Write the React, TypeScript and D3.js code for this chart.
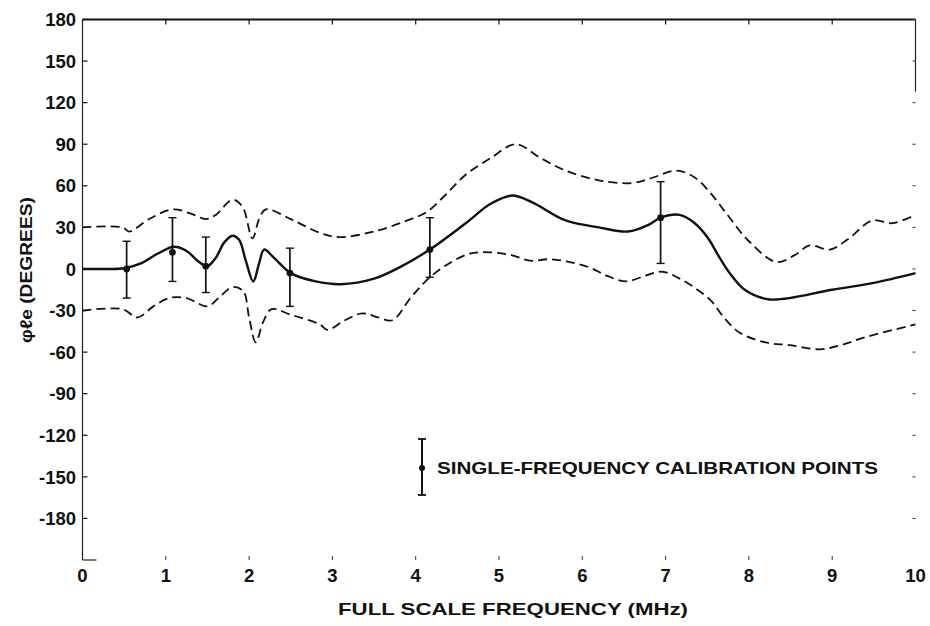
import React from "react";
import * as d3 from "d3";

// ---- data ----
const xTicks = [0, 1, 2, 3, 4, 5, 6, 7, 8, 9, 10];
const yTicks = [180, 150, 120, 90, 60, 30, 0, -30, -60, -90, -120, -150, -180];

const meanFreq = [0, 0.3, 0.5, 0.7, 0.9, 1.1, 1.25, 1.4, 1.5, 1.6, 1.7, 1.8, 1.88, 1.96, 2.05, 2.12, 2.18, 2.3, 2.5, 2.8, 3.1, 3.5, 3.8, 4.17, 4.6, 4.9, 5.16, 5.4, 5.8, 6.2, 6.55, 6.8, 6.94, 7.17, 7.35, 7.5, 7.65, 7.77, 7.95, 8.25, 9.0, 9.5, 10];
const meanPhase = [0, 0, 0.5, 4, 11, 16, 13, 5, 2, 8, 19, 24, 21, 6, -9, 4, 14, 8, -3, -9, -11, -7, 1, 14, 33, 47, 53, 48, 35, 30, 27, 32, 37, 39, 33, 23, 8, -3, -15, -22, -15, -10, -3];

const upperFreq = [0, 0.48, 0.56, 0.8, 1.08, 1.3, 1.48, 1.6, 1.8, 1.92, 2.04, 2.12, 2.2, 2.5, 2.85, 3.08, 3.5, 3.9, 4.13, 4.35, 4.6, 4.9, 5.2, 5.5, 5.8, 6.2, 6.6, 6.85, 7.13, 7.35, 7.55, 7.73, 8.0, 8.33, 8.55, 8.73, 8.97, 9.2, 9.48, 9.72, 10];
const upperPhase = [30, 30, 27, 36, 43, 40, 36, 39, 50, 45, 22, 36, 43, 36, 26, 23, 27, 35, 41, 53, 68, 80, 90, 80, 71, 64, 62, 66, 71, 66, 54, 40, 20, 5, 10, 17, 14, 22, 35, 33, 39];

const lowerFreq = [0, 0.48, 0.66, 0.85, 1.04, 1.25, 1.5, 1.65, 1.8, 1.93, 2.0, 2.08, 2.17, 2.27, 2.5, 2.85, 2.94, 3.15, 3.36, 3.55, 3.72, 3.95, 4.17, 4.4, 4.65, 4.89, 5.15, 5.37, 5.6, 5.85, 6.09, 6.3, 6.53, 6.75, 6.96, 7.2, 7.53, 7.7, 7.89, 8.2, 8.5, 8.85, 9.1, 9.41, 10];
const lowerPhase = [-30, -29, -35, -27, -21, -21, -27, -20, -13, -16, -35, -53, -38, -29, -33, -40, -44, -37, -32, -35, -37, -20, -6, 4, 11, 12, 10, 6, 7, 5, 1, -5, -9, -5, -2, -8, -22, -35, -46, -53, -55, -58, -55, -49, -40];

const calFreq = [0.53, 1.08, 1.48, 2.49, 4.17, 6.94];
const calPhase = [0, 12, 2, -3, 14, 37];
const calLow = [-21, -9, -17, -27, -6, 4];
const calHigh = [20, 37, 23, 15, 37, 63];

const FONT = "'Liberation Sans', Arial, Helvetica, sans-serif";

export default function App() {
  const W = 930, H = 626;
  const x = d3.scaleLinear().domain([0, 10]).range([82.5, 915.5]);
  const y = d3.scaleLinear().domain([-210, 180]).range([560, 19.5]);

  const line = d3
    .line<[number, number]>()
    .x((d) => x(d[0]))
    .y((d) => y(d[1]))
    .curve(d3.curveCatmullRom.alpha(0.5));

  const zip = (a: number[], b: number[]) => a.map((v, i) => [v, b[i]] as [number, number]);

  const left = x(0), right = x(10), top = y(180), bottom = y(-210);

  return (
    <svg width={W} height={H} style={{ position: "absolute", left: 0, top: 0, background: "#fff" }}>
      {/* frame */}
      <line x1={left} x2={right} y1={top} y2={top} stroke="#111" strokeWidth={2} />
      <line x1={left} x2={left} y1={top} y2={bottom} stroke="#222" strokeWidth={1.2} />
      <line x1={right} x2={right} y1={top} y2={y(128)} stroke="#222" strokeWidth={1.2} />
      <line x1={left} x2={left + 14} y1={bottom} y2={bottom} stroke="#222" strokeWidth={1.2} />

      {/* top & bottom ticks */}
      {xTicks.map((t) => (
        <g key={"xt" + t}>
          {t > 0 && t < 10 && <line x1={x(t)} x2={x(t)} y1={top} y2={top + 5} stroke="#111" strokeWidth={1.2} />}
          {t > 0 && t < 10 && <line x1={x(t)} x2={x(t)} y1={bottom} y2={bottom - 4} stroke="#333" strokeWidth={1} />}
          <text x={x(t)} y={582} textAnchor="middle" fontFamily={FONT} fontWeight="bold" fontSize={18.5} fill="#111">
            {t}
          </text>
        </g>
      ))}

      {/* left & right ticks */}
      {yTicks.map((t) => (
        <g key={"yt" + t}>
          <line x1={left} x2={left + 5} y1={y(t)} y2={y(t)} stroke="#111" strokeWidth={1.2} />
          <line x1={right} x2={right - 3} y1={y(t)} y2={y(t)} stroke="#333" strokeWidth={1} />
          <text x={76} y={y(t)} dy="0.36em" textAnchor="end" fontFamily={FONT} fontWeight="bold" fontSize={18.5} fill="#111">
            {t}
          </text>
        </g>
      ))}

      {/* curves */}
      <path d={line(zip(upperFreq, upperPhase)) || ""} fill="none" stroke="#111" strokeWidth={1.8} strokeDasharray="9 5" />
      <path d={line(zip(lowerFreq, lowerPhase)) || ""} fill="none" stroke="#111" strokeWidth={1.8} strokeDasharray="9 5" />
      <path d={line(zip(meanFreq, meanPhase)) || ""} fill="none" stroke="#111" strokeWidth={2.4} />

      {/* calibration points */}
      {calFreq.map((f, i) => (
        <g key={"cal" + i} stroke="#111">
          <line x1={x(f)} x2={x(f)} y1={y(calHigh[i])} y2={y(calLow[i])} strokeWidth={1.7} />
          <line x1={x(f) - 4} x2={x(f) + 4} y1={y(calHigh[i])} y2={y(calHigh[i])} strokeWidth={1.4} />
          <line x1={x(f) - 4} x2={x(f) + 4} y1={y(calLow[i])} y2={y(calLow[i])} strokeWidth={1.4} />
          <circle cx={x(f)} cy={y(calPhase[i])} r={3.4} fill="#111" stroke="none" />
        </g>
      ))}

      {/* legend */}
      <g stroke="#111">
        <line x1={422} x2={422} y1={439} y2={495} strokeWidth={2} />
        <line x1={418} x2={426} y1={439} y2={439} strokeWidth={1.8} />
        <line x1={418} x2={426} y1={495} y2={495} strokeWidth={1.8} />
        <circle cx={422} cy={468} r={3} fill="#111" stroke="none" />
      </g>
      <text x={437} y={473.5} fontFamily={FONT} fontWeight="bold" fontSize={17} fill="#111" textLength={441} lengthAdjust="spacingAndGlyphs">
        SINGLE-FREQUENCY CALIBRATION POINTS
      </text>

      {/* axis titles */}
      <text x={513} y={615} textAnchor="middle" fontFamily={FONT} fontWeight="bold" fontSize={17} fill="#111" textLength={350} lengthAdjust="spacingAndGlyphs">
        FULL SCALE FREQUENCY (MHz)
      </text>
      <text
        transform={`translate(32,270) rotate(-90)`}
        textAnchor="middle"
        fontFamily={FONT}
        fontWeight="bold"
        fontSize={17}
        fill="#111"
        textLength={146}
        lengthAdjust="spacingAndGlyphs"
      >
        φℓe (DEGREES)
      </text>
    </svg>
  );
}
